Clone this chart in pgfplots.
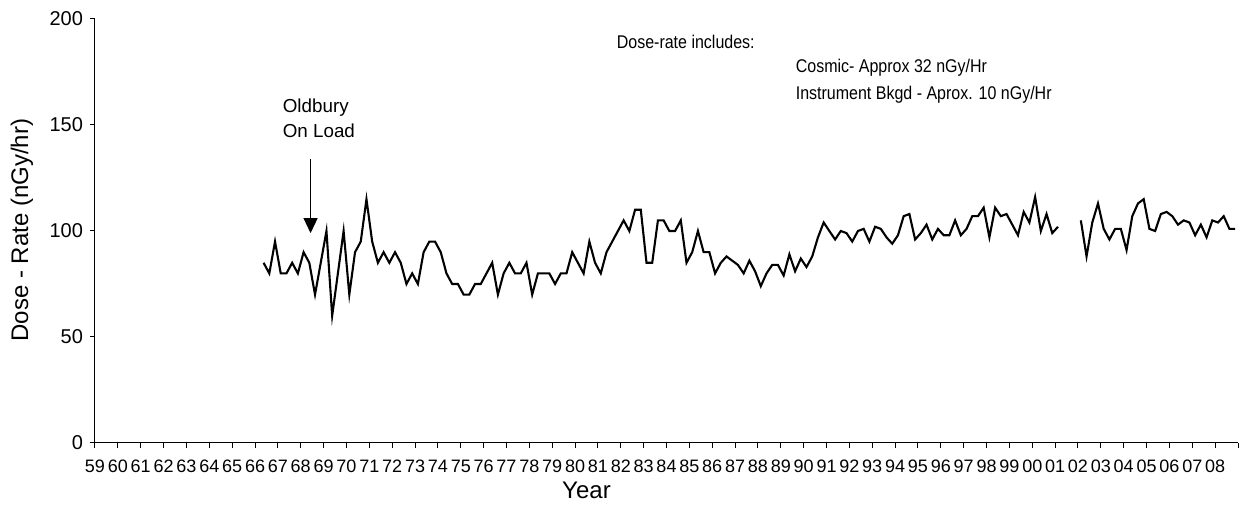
\documentclass[border=0pt]{standalone}
\usepackage{pgfplots}
\pgfplotsset{compat=1.18}
\usepackage{fontspec}
\setmainfont{Liberation Sans}
\usetikzlibrary{arrows.meta}

\newcommand{\tall}[1]{\scalebox{1}[1.15]{#1}}

\begin{document}
\begin{tikzpicture}
\begin{axis}[
    name=main, at={(0,0)}, anchor=south west,
    scale only axis, width=571.5pt, height=212pt,
    xmin=59, xmax=109, ymin=0, ymax=200,
    axis x line=bottom, axis y line=left,
    axis line style={-, line width=0.5pt},
    xtick={59,...,109},
    xticklabels={59,60,61,62,63,64,65,66,67,68,69,70,71,72,73,74,75,76,77,78,79,80,81,82,83,84,85,86,87,88,89,90,91,92,93,94,95,96,97,98,99,00,01,02,03,04,05,06,07,08,},
    ytick={0,50,100,150,200},
    tick align=outside, major tick length=2.5pt,
    tick style={line width=0.5pt, black},
    /pgf/number format/assume math mode=true,
    xticklabel style={font=\fontsize{9}{11}\selectfont, inner xsep=0pt, yshift=-2.5pt},
    yticklabel style={font=\fontsize{10}{12}\selectfont},
    xlabel={Year}, ylabel={Dose - Rate (nGy/hr)},
    label style={font=\fontsize{12}{14}\selectfont},
    xlabel style={at={(axis description cs:0.43,-0.111)}, anchor=center},
    ylabel style={at={(axis description cs:-0.064,0.502)}, anchor=center},
    unbounded coords=jump,
    clip=false,
]
\addplot[black, line width=1.05pt, mark=none] coordinates {
(66.375,85) (66.625,80) (66.875,95)
(67.125,80) (67.375,80) (67.625,85) (67.875,80)
(68.125,90) (68.375,85) (68.625,70) (68.875,85)
(69.125,100) (69.375,60) (69.625,80) (69.875,100)
(70.125,70) (70.375,90) (70.625,95) (70.875,115)
(71.125,95) (71.375,85) (71.625,90) (71.875,85)
(72.125,90) (72.375,85) (72.625,75) (72.875,80)
(73.125,75) (73.375,90) (73.625,95) (73.875,95)
(74.125,90) (74.375,80) (74.625,75) (74.875,75)
(75.125,70) (75.375,70) (75.625,75) (75.875,75)
(76.125,80) (76.375,85) (76.625,70) (76.875,80)
(77.125,85) (77.375,80) (77.625,80) (77.875,85)
(78.125,70) (78.375,80) (78.625,80) (78.875,80)
(79.125,75) (79.375,80) (79.625,80) (79.875,90)
(80.125,85) (80.375,80) (80.625,95) (80.875,85)
(81.125,80) (81.375,90) (81.625,95) (81.875,100)
(82.125,105) (82.375,100) (82.625,110) (82.875,110)
(83.125,85) (83.375,85) (83.625,105) (83.875,105)
(84.125,100) (84.375,100) (84.625,105) (84.875,85)
(85.125,90) (85.375,100) (85.625,90) (85.875,90)
(86.125,80) (86.375,85) (86.625,88) (86.875,86)
(87.125,84) (87.375,80) (87.625,86) (87.875,81)
(88.125,74) (88.375,80) (88.625,84) (88.875,84)
(89.125,79) (89.375,89) (89.625,81) (89.875,87)
(90.125,83) (90.375,88) (90.625,97) (90.875,104)
(91.125,100) (91.375,96) (91.625,100) (91.875,99)
(92.125,95) (92.375,100) (92.625,101) (92.875,95)
(93.125,102) (93.375,101) (93.625,97) (93.875,94)
(94.125,98) (94.375,107) (94.625,108) (94.875,96)
(95.125,99) (95.375,103) (95.625,96) (95.875,101)
(96.125,98) (96.375,98) (96.625,105) (96.875,98)
(97.125,101) (97.375,107) (97.625,107) (97.875,111)
(98.125,97) (98.375,111) (98.625,107) (98.875,108)
(99.125,103) (99.375,98) (99.625,109) (99.875,104)
(100.125,116) (100.375,100) (100.625,108) (100.875,99)
(101.125,102) (101.5,nan)
(102.125,105) (102.375,88) (102.625,104) (102.875,113)
(103.125,101) (103.375,96) (103.625,101) (103.875,101)
(104.125,91) (104.375,107) (104.625,113) (104.875,115)
(105.125,101) (105.375,100) (105.625,108) (105.875,109)
(106.125,107) (106.375,103) (106.625,105) (106.875,104)
(107.125,98) (107.375,103) (107.625,97) (107.875,105)
(108.125,104) (108.375,107) (108.625,101) (108.875,101)
};
% annotations
\draw[line width=0.6pt, -{Triangle[width=7pt,length=7.5pt]}] (axis cs:68.43,134) -- (axis cs:68.43,99);
\node[anchor=west, align=left, font=\fontsize{9.4}{12.5}\selectfont, inner sep=0pt] at (axis cs:67.2,153) {Oldbury\\On Load};
\node[anchor=west, inner sep=0pt, font=\fontsize{8}{10}\selectfont] at (axis cs:81.81,189.2) {\tall{Dose-rate includes:}};
\node[anchor=west, inner sep=0pt, font=\fontsize{8}{10}\selectfont] at (axis cs:89.64,176.9) {\tall{Cosmic- Approx 32 nGy/Hr}};
\node[anchor=west, inner sep=0pt, font=\fontsize{8}{10}\selectfont] at (axis cs:89.64,164.2) {\tall{Instrument Bkgd - Aprox. 10 nGy/Hr}};
\end{axis}
\pgfresetboundingbox
\path[use as bounding box] (-47.5pt,-37.5pt) rectangle (572.5pt,221.5pt);
\end{tikzpicture}
\end{document}
